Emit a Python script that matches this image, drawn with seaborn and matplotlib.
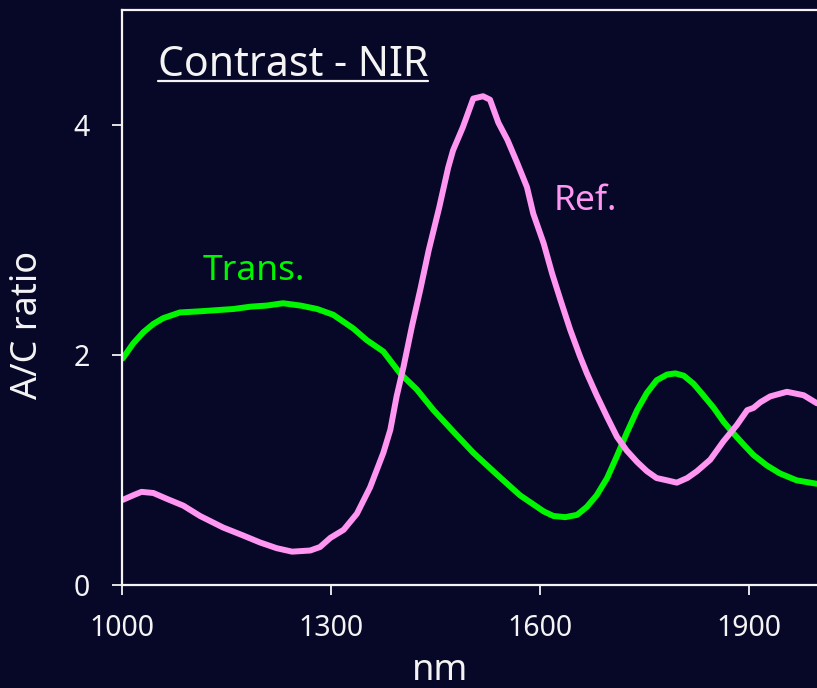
import numpy as np
import pandas as pd
import matplotlib
matplotlib.use("Agg")
import matplotlib.pyplot as plt
import seaborn as sns
from matplotlib.lines import Line2D

# Reflectance contrast (A/C ratio) versus wavelength
ref_nm = [1001, 1016, 1028, 1045, 1064, 1088, 1112, 1145, 1174, 1198, 1222, 1244, 1270,
          1284, 1299, 1318, 1337, 1356, 1375, 1385, 1394, 1404, 1416, 1428, 1440, 1455,
          1468, 1475, 1489, 1504, 1518, 1528, 1540, 1553, 1567, 1581, 1590, 1605, 1617,
          1629, 1643, 1657, 1667, 1681, 1696, 1710, 1724, 1739, 1753, 1767, 1782, 1796,
          1811, 1825, 1844, 1863, 1882, 1897, 1906, 1916, 1930, 1954, 1978, 1997]
ref_val = [0.74, 0.78, 0.81, 0.80, 0.75, 0.69, 0.60, 0.50, 0.43, 0.37, 0.32, 0.29, 0.30,
           0.33, 0.41, 0.48, 0.62, 0.85, 1.15, 1.35, 1.64, 1.90, 2.25, 2.57, 2.91, 3.28,
           3.63, 3.78, 3.98, 4.23, 4.25, 4.22, 4.02, 3.87, 3.67, 3.46, 3.23, 2.97, 2.71,
           2.48, 2.22, 1.99, 1.84, 1.65, 1.46, 1.29, 1.17, 1.07, 0.99, 0.93, 0.91, 0.89,
           0.93, 0.99, 1.09, 1.25, 1.39, 1.52, 1.54, 1.59, 1.64, 1.68, 1.65, 1.58]

# Transmission contrast (A/C ratio) versus wavelength
trans_nm = [1001, 1016, 1031, 1045, 1059, 1083, 1112, 1136, 1160, 1184, 1208, 1231, 1256,
            1280, 1303, 1332, 1351, 1375, 1399, 1423, 1447, 1476, 1504, 1538, 1571, 1605,
            1619, 1636, 1653, 1667, 1681, 1696, 1710, 1724, 1739, 1753, 1767, 1782, 1794,
            1806, 1820, 1834, 1849, 1863, 1877, 1892, 1906, 1925, 1944, 1968, 1997]
trans_val = [1.97, 2.10, 2.20, 2.27, 2.32, 2.37, 2.38, 2.39, 2.40, 2.42, 2.43, 2.45, 2.43,
             2.40, 2.35, 2.23, 2.13, 2.03, 1.84, 1.70, 1.52, 1.33, 1.15, 0.96, 0.78, 0.64,
             0.60, 0.59, 0.61, 0.68, 0.78, 0.93, 1.12, 1.32, 1.52, 1.67, 1.78, 1.83, 1.84,
             1.82, 1.75, 1.65, 1.54, 1.42, 1.32, 1.22, 1.13, 1.04, 0.97, 0.91, 0.88]

x_ticks = [1000, 1300, 1600, 1900]
y_ticks = [0, 2, 4]

BG = "#070727"
FG = "#f4f4f4"
GREEN = "#00f500"
PINK = "#ff96f2"

sns.set_theme(style="white")
plt.rcParams["font.family"] = ["Noto Sans", "DejaVu Sans"]

fig = plt.figure(figsize=(8.17, 6.88), dpi=100, facecolor=BG)
ax = fig.add_axes([122 / 817, 103 / 688, 697 / 817, 575 / 688])
ax.set_facecolor(BG)

ref_df = pd.DataFrame({"nm": ref_nm, "ratio": ref_val})
trans_df = pd.DataFrame({"nm": trans_nm, "ratio": trans_val})

sns.lineplot(data=trans_df, x="nm", y="ratio", ax=ax, color=GREEN, lw=4.3,
             sort=False, estimator=None)
sns.lineplot(data=ref_df, x="nm", y="ratio", ax=ax, color=PINK, lw=4.3,
             sort=False, estimator=None)

ax.set_xlim(1000, 2000)
ax.set_ylim(0, 5)
ax.set_xticks(x_ticks)
ax.set_yticks(y_ticks)
ax.tick_params(axis="both", colors=FG, labelcolor=FG, labelsize=20.5,
               length=7, width=1.3, direction="out", pad=14)
ax.tick_params(axis="x", bottom=True)
ax.tick_params(axis="y", left=True, pad=16)

for side in ["left", "bottom", "top", "right"]:
    ax.spines[side].set_visible(True)
    ax.spines[side].set_color(FG)
    ax.spines[side].set_linewidth(1.6)

ax.set_xlabel("nm", fontsize=26, color=FG, va="baseline")
ax.xaxis.set_label_coords(0.456, -0.165)
ax.set_ylabel("A/C ratio", fontsize=26, color=FG, va="center")
ax.yaxis.set_label_coords(-0.135, 0.452)

ax.text(1116, 2.65, "Trans.", color=GREEN, fontsize=25.5, ha="left", va="baseline")
ax.text(1619, 3.26, "Ref.", color=PINK, fontsize=25.5, ha="left", va="baseline")

title = ax.text(0.0517, 0.886, "Contrast - NIR", transform=ax.transAxes,
                color=FG, fontsize=29.5, ha="left", va="baseline")

# underline beneath the title
fig.canvas.draw()
bb = title.get_window_extent(renderer=fig.canvas.get_renderer())
inv = fig.transFigure.inverted()
(x0, _), (x1, _) = inv.transform([(bb.x0, 0), (bb.x1, 0)])
y_under = 1 - 81 / 688
fig.add_artist(Line2D([x0, x1], [y_under, y_under], transform=fig.transFigure,
                      color=FG, lw=1.6))

fig.savefig("out.png", dpi=100, facecolor=BG)
